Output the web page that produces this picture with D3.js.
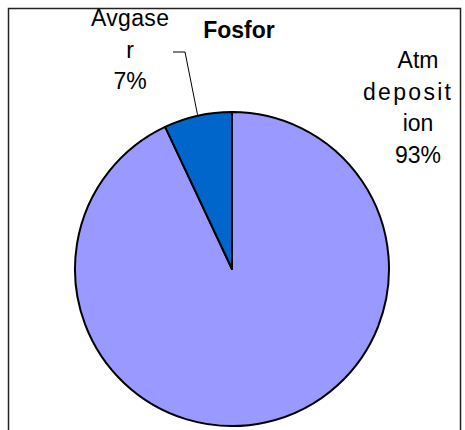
<!DOCTYPE html>
<html>
<head>
<meta charset="utf-8">
<script src="https://cdn.jsdelivr.net/npm/d3@7"></script>
<style>
    body { margin: 0; background: #fff; }
    svg { display: block; font-family: Arial, "Liberation Sans", sans-serif; }
</style>
</head>
<body>
<div id="chart"></div>
<script>
// chart data
let title = 'Fosfor';
let categories = ['Atm deposition', 'Avgaser'];
let values = [93, 7];
let colors = ['#9999ff', '#0066cc'];

// wrapped label text as Excel broke it
let labelLines = [
    ['Atm', 'deposit', 'ion'],
    ['Avgase', 'r']
];

let width = 465, height = 430;
let cx = 232, cy = 269, radius = 157;

let svg = d3.select('#chart').append('svg')
    .attr('width', width)
    .attr('height', height);

// outer frame (bottom runs off the picture)
svg.append('rect')
    .attr('x', 8.5)
    .attr('y', 8.5)
    .attr('width', 452)
    .attr('height', 440)
    .attr('fill', 'none')
    .attr('stroke', '#222')
    .attr('stroke-width', 1.5);

let pie = d3.pie().sort(null).value(d => d);
let arcs = pie(values);
let arc = d3.arc().innerRadius(0).outerRadius(radius);

let g = svg.append('g')
    .attr('transform', `translate(${cx},${cy})`);

g.selectAll('path')
    .data(arcs)
    .join('path')
    .attr('d', arc)
    .attr('fill', (d, i) => colors[i])
    .attr('stroke', '#000')
    .attr('stroke-width', 2)
    .attr('stroke-linejoin', 'round');

// title
svg.append('text')
    .attr('x', 239)
    .attr('y', 38)
    .attr('text-anchor', 'middle')
    .style('font-size', '23px')
    .style('font-weight', 'bold')
    .text(title);

// data labels
let total = d3.sum(values);
let labelPos = [
    { x: 418, y: 68, dx: [0, -11, 0] },
    { x: 130, y: 26, dx: [0, 0] }
];
let lineGap = 31.7;
// rendered widths of the wider lines in the original
let stretch = { 'deposit': 88, 'Avgase': 78 };

labelLines.forEach(function(lines, i) {
    let t = svg.append('text')
        .attr('text-anchor', 'middle')
        .style('font-size', '23px');
    let all = lines.concat([Math.round(values[i] / total * 100) + '%']);
    all.forEach(function(s, j) {
        let ts = t.append('tspan')
            .attr('x', labelPos[i].x + (labelPos[i].dx[j] || 0))
            .attr('y', labelPos[i].y + j * lineGap)
            .text(s);
        if (stretch[s]) {
            ts.attr('textLength', stretch[s]).attr('lengthAdjust', 'spacing');
        }
    });
});

// leader line for the small slice
let mid = (arcs[1].startAngle + arcs[1].endAngle) / 2;
let edge = [cx + Math.sin(mid) * (radius + 1), cy - Math.cos(mid) * (radius + 1)];
svg.append('polyline')
    .attr('points', [[173, 52], [185, 52], edge].map(p => p.join(',')).join(' '))
    .attr('fill', 'none')
    .attr('stroke', '#000')
    .attr('stroke-width', 1);
</script>
</body>
</html>
